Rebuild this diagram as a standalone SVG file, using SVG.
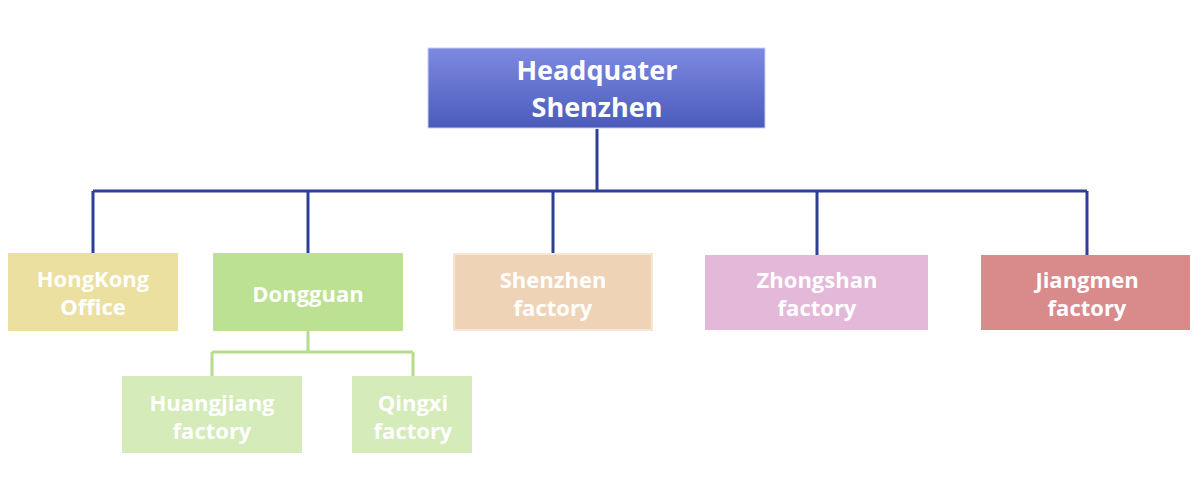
<svg xmlns="http://www.w3.org/2000/svg" width="1200" height="500" viewBox="0 0 1200 500">
<defs>
<linearGradient id="hq" x1="0" y1="0" x2="0" y2="1">
<stop offset="0" stop-color="#7d8ae2"/>
<stop offset="1" stop-color="#4b5bbb"/>
</linearGradient>
<style>
.t{font-family:"Open Sans","Liberation Sans",sans-serif;font-weight:bold;fill:#ffffff;text-anchor:middle;font-size:22px}
.h{font-size:27px}
.blue{stroke:#2e3f96;stroke-width:3;fill:none}
.green{stroke:#b6dc8c;stroke-width:3;fill:none}
</style>
</defs>
<rect width="1200" height="500" fill="#ffffff"/>
<g id="connectors">
<path class="blue" d="M597 129 V191 M93 191 H1087 M93 191 V253 M308 191 V253 M553 191 V254 M817 191 V255 M1087 191 V255"/>
<path class="green" d="M308 331 V352 M212 352 H413 M212 352 V376 M413 352 V376"/>
</g>
<g id="hq">
<rect x="428" y="48" width="337" height="80" fill="url(#hq)" stroke="#c9cff2" stroke-width="1"/>
<text class="t h" x="597" y="80">Headquater</text>
<text class="t h" x="597" y="117">Shenzhen</text>
</g>
<g id="hongkong">
<rect x="8" y="253" width="170" height="78" fill="#ece0a0"/>
<text class="t" x="93" y="287">HongKong</text>
<text class="t" x="93" y="315">Office</text>
</g>
<g id="dongguan">
<rect x="213" y="253" width="190" height="78" fill="#bde192"/>
<text class="t" x="308" y="302">Dongguan</text>
</g>
<g id="shenzhen">
<rect x="454" y="254" width="198" height="76" fill="#efd3b6" stroke="#f6e6d4" stroke-width="2"/>
<text class="t" x="553" y="288">Shenzhen</text>
<text class="t" x="553" y="316">factory</text>
</g>
<g id="zhongshan">
<rect x="705" y="255" width="223" height="75" fill="#e4b8d9"/>
<text class="t" x="817" y="288">Zhongshan</text>
<text class="t" x="817" y="316">factory</text>
</g>
<g id="jiangmen">
<rect x="981" y="255" width="209" height="75" fill="#d98b8c"/>
<text class="t" x="1087" y="288">Jiangmen</text>
<text class="t" x="1087" y="316">factory</text>
</g>
<g id="huangjiang">
<rect x="122" y="376" width="180" height="77" fill="#d5ebba"/>
<text class="t" x="212" y="411">Huangjiang</text>
<text class="t" x="212" y="439">factory</text>
</g>
<g id="qingxi">
<rect x="352" y="376" width="120" height="77" fill="#d5ebba"/>
<text class="t" x="413" y="411">Qingxi</text>
<text class="t" x="413" y="439">factory</text>
</g>
</svg>
